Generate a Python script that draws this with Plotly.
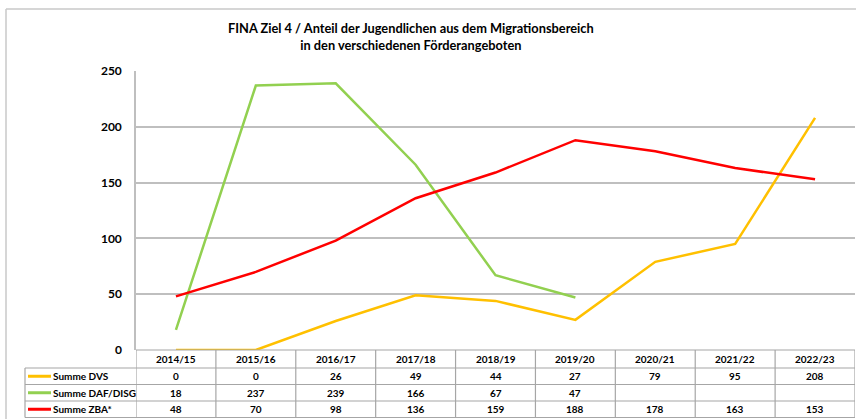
import plotly.graph_objects as go

categories = ["2014/15", "2015/16", "2016/17", "2017/18", "2018/19", "2019/20", "2020/21", "2021/22", "2022/23"]
series_names = ["Summe DVS", "Summe DAF/DISG", "Summe ZBA*"]
dvs = [0, 0, 26, 49, 44, 27, 79, 95, 208]
daf = [18, 237, 239, 166, 67, 47, None, None, None]
zba = [48, 70, 98, 136, 159, 188, 178, 163, 153]
colors = ["#FFC000", "#92D050", "#FF0000"]
title_text = "FINA Ziel 4 / Anteil der Jugendlichen aus dem Migrationsbereich<br>in den verschiedenen Förderangeboten"

W, H = 856, 419
L, R, T, B = 136, 855, 71, 350
FONT = "Lato, Liberation Sans, sans-serif"
GRID = "#BFBFBF"
TBL = "#A6A6A6"


def py(Y):
    return (B - Y) / (B - T)


def px(X):
    return (X - L) / (R - L)


fig = go.Figure()
for name, vals, col in zip(series_names, [dvs, daf, zba], colors):
    fig.add_trace(go.Scatter(x=categories, y=vals, mode="lines", name=name,
                             line=dict(color=col, width=2.5), connectgaps=False,
                             showlegend=False, cliponaxis=False))

shapes = []
ann = []

# outer chart frame
shapes.append(dict(type="line", xref="paper", yref="paper", x0=px(6), x1=px(870), y0=py(9), y1=py(9),
                   line=dict(color="#C8C8C8", width=1.5)))
shapes.append(dict(type="line", xref="paper", yref="paper", x0=px(6), x1=px(6), y0=py(9), y1=py(430),
                   line=dict(color="#C8C8C8", width=1.5)))

# table rows (pixel y boundaries)
row_y = [350, 368, 384.5, 401, 417.5]
legend_left = 25
for k, Y in enumerate(row_y):
    x0 = px(L) if k == 0 else px(legend_left)
    shapes.append(dict(type="line", xref="paper", yref="paper", x0=x0, x1=1, y0=py(Y), y1=py(Y),
                       line=dict(color=TBL, width=1.2)))
# vertical boundaries
for i in range(len(categories) + 1):
    shapes.append(dict(type="line", xref="x", yref="paper", x0=i - 0.5, x1=i - 0.5,
                       y0=py(row_y[0]), y1=py(row_y[-1]), line=dict(color=TBL, width=1.2)))
shapes.append(dict(type="line", xref="paper", yref="paper", x0=px(legend_left), x1=px(legend_left),
                   y0=py(row_y[1]), y1=py(row_y[-1]), line=dict(color=TBL, width=1.2)))

TS = 10
# header labels
for i, c in enumerate(categories):
    ann.append(dict(x=c, xref="x", y=py((row_y[0] + row_y[1]) / 2), yref="paper", text="<b>%s</b>" % c,
                    showarrow=False, xanchor="center", yanchor="middle",
                    font=dict(family=FONT, size=TS, color="#000")))

# rows
for r, (name, vals, col) in enumerate(zip(series_names, [dvs, daf, zba], colors)):
    yc = (row_y[r + 1] + row_y[r + 2]) / 2
    shapes.append(dict(type="line", xref="paper", yref="paper", x0=px(28), x1=px(51), y0=py(yc), y1=py(yc),
                       line=dict(color=col, width=3)))
    ann.append(dict(x=px(51), xref="paper", y=py(yc), yref="paper", text="<b>%s</b>" % name,
                    showarrow=False, xanchor="left", yanchor="middle",
                    font=dict(family=FONT, size=TS, color="#000")))
    for i, v in enumerate(vals):
        if v is None:
            continue
        ann.append(dict(x=categories[i], xref="x", y=py(yc), yref="paper", text="<b>%d</b>" % v,
                        showarrow=False, xanchor="center", yanchor="middle",
                        font=dict(family=FONT, size=TS, color="#000")))

# title
ann.append(dict(x=px(411), xref="paper", y=py(37), yref="paper", text="<b>%s</b>" % title_text,
                showarrow=False, xanchor="center", yanchor="middle", align="center",
                font=dict(family=FONT, size=12.8, color="#000")))

fig.update_layout(
    width=W, height=H,
    margin=dict(l=L, r=W - R, t=T, b=H - B, pad=0),
    paper_bgcolor="white", plot_bgcolor="white",
    shapes=shapes, annotations=ann,
    showlegend=False,
    xaxis=dict(type="category", range=[-0.5, len(categories) - 0.5], showticklabels=False,
               showgrid=False, zeroline=False, showline=False, ticks=""),
    yaxis=dict(range=[0, 250], dtick=50, showgrid=True, gridcolor=GRID, gridwidth=1.5,
               zeroline=False, showline=True, linecolor=GRID, linewidth=1.5, ticks="",
               ticklabelstandoff=10,
               tickfont=dict(family=FONT, size=12, color="#000", weight="bold")),
)

fig.write_html("out.html", config={"displayModeBar": False},
               post_script="document.body.style.margin='0';")
